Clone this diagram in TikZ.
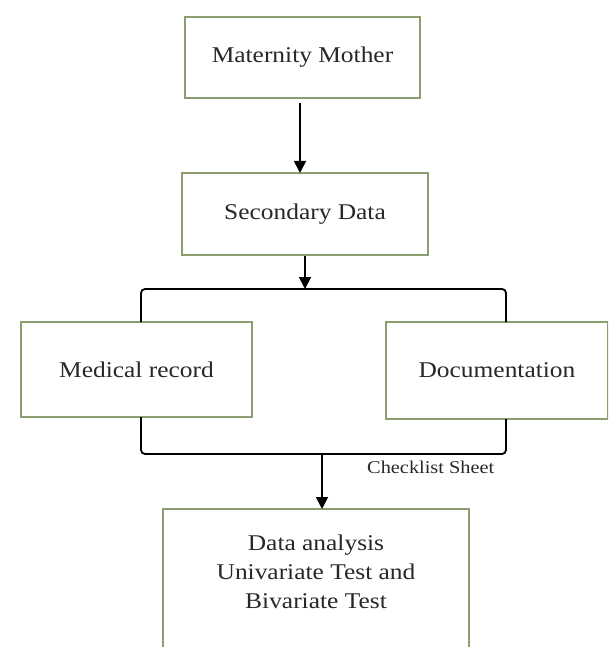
\documentclass[tikz,border=0pt]{standalone}
\usepackage{fontspec}
\setmainfont{Liberation Serif}[FakeStretch=1.13]
\usetikzlibrary{arrows.meta}
\definecolor{boxline}{RGB}{140,158,112}
\definecolor{txt}{RGB}{40,40,40}
\tikzset{
  box/.style={draw=boxline, line width=1.1pt, fill=white, text=txt, font=\fontsize{22.5}{29}\selectfont, align=center, inner sep=0pt},
  arr/.style={line width=1.8pt, -{Triangle[length=12pt,width=12pt]}},
  brk/.style={line width=1.8pt, rounded corners=4pt}
}
\begin{document}
\begin{tikzpicture}[x=1pt,y=-1pt]
\useasboundingbox (0,0) rectangle (608,647);
\clip (0,0) rectangle (608,647);
\node[box, minimum width=235pt, minimum height=81pt] (mm) at (302.5,57.5) {Maternity Mother};
\node[box, minimum width=246pt, minimum height=82pt] (sd) at (305,214) {Secondary Data};
\node[box, minimum width=231pt, minimum height=95pt] (mr) at (136.5,369.5) {Medical record};
\node[box, minimum width=222pt, minimum height=97pt] (dc) at (497,370.5) {Documentation};
\draw[box] (163,509) rectangle (469,660);
\node[box, draw=none, fill=none, anchor=north] (da) at (316,534) {Data analysis\\Univariate Test and\\Bivariate Test};
\coordinate (a1s) at (300,103);
\coordinate (a1e) at (300,173);
\coordinate (bt) at (305,289);
\coordinate (bl) at (141,289);
\coordinate (br) at (506,289);
\coordinate (bb) at (322,454);
\coordinate (dt) at (322,509);
\node[text=txt, font=\fontsize{18}{20}\selectfont, anchor=west, inner sep=0pt] (cs) at (367,467) {Checklist Sheet};
\draw[arr] (a1s) -- (a1e);
\draw[arr] (sd.south) -- (bt);
\draw[brk] (141,322) -- (bl) -- (br) -- (506,322);
\draw[brk] (141,417) -- (141,454) -- (506,454) -- (506,419);
\draw[arr] (bb) -- (dt);
\end{tikzpicture}
\end{document}
